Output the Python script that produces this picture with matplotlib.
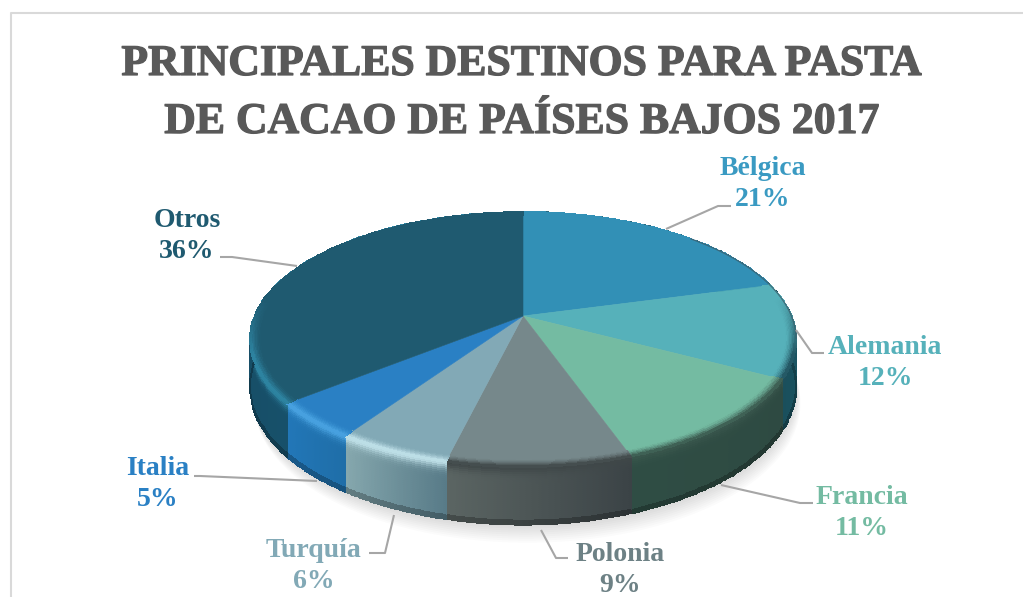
import numpy as np
import matplotlib
matplotlib.use('Agg')
import matplotlib.pyplot as plt
import matplotlib.patheffects as pe
from matplotlib.colors import to_rgb

# datos
paises = ['Bélgica', 'Alemania', 'Francia', 'Polonia', 'Turquía', 'Italia', 'Otros']
etiquetas = ['21%', '12%', '11%', '9%', '6%', '5%', '36%']
valores = [20.8, 12.0, 11.8, 9.2, 5.7, 4.7, 35.8]

# colores
color_top = ['#3290b6', '#56b1ba', '#74bba2', '#76888b', '#82a9b6', '#2a80c4', '#1f5a70']
color_txt = ['#3a9ac2', '#56b1ba', '#74bba2', '#6d8185', '#82a9b6', '#2a80c4', '#1f5a70']
# el angulo avanza de derecha a izquierda en el frente
lado_ini = ['#1d5c78', '#1b5866', '#2e4a42', '#3b4346', '#587b88', '#1f6ea8', '#17506a']
lado_fin = ['#1d5c78', '#1a4f5c', '#2f4d44', '#5b6563', '#86a8ae', '#2277b8', '#15485c']
color_rim = ['#2a6a80', '#1f4f5c', '#39564c', '#3f4748', '#c3e4ec', '#4aa4e2', '#2f88a6']

# geometria del pastel (pixeles de la imagen)
cx, cy = 523, 316
a, b, k = 268.4, 123.2, 0.184
prof = 47
r_bisel = 0.965


def proyecta(theta, r=1.0, z=0.0):
    # theta en grados, sentido horario desde las 12
    u = r * np.sin(np.radians(theta))
    v = r * np.cos(np.radians(theta))
    d = 1 + k * v
    return cx + a * u / d, cy - b * v / d + z * prof / d


def mezcla(c1, c2, f):
    c1 = np.array(to_rgb(c1))
    c2 = np.array(to_rgb(c2))
    return c1 + (c2 - c1) * f


def frente(theta):
    # el bisel solo se ve en la parte delantera
    return np.clip((0.15 - np.cos(np.radians(theta))) / 0.45, 0, 1)


fig = plt.figure(figsize=(10.23, 5.97), dpi=100)
ax = fig.add_axes([0, 0, 1, 1])
ax.set_xlim(0, 1023)
ax.set_ylim(597, 0)
ax.axis('off')

# marco
ax.plot([10.5, 10.5, 1023], [597, 13, 13], color='#d9d9d9', lw=1.5, zorder=1)

# sombra
th = np.linspace(0, 360, 361)
for i in range(10):
    sx, sy = proyecta(th, z=1 + i * 0.035)
    ax.fill(sx + i * 0.5, sy, color='#000000', alpha=0.015, lw=0, zorder=2)

# angulos de cada porcion
cortes = np.concatenate([[0], np.cumsum(valores)]) / np.sum(valores) * 360

# lados
for i in range(len(valores)):
    t1, t2 = cortes[i], cortes[i + 1]
    ths = np.linspace(t1, t2, 60)
    zs = np.linspace(0, 1, 30)
    T, Z = np.meshgrid(ths, zs)
    X, Y = proyecta(T, z=Z)
    cc = np.zeros((29, 59, 4))
    for n in range(29):
        zn = (n + 0.5) / 29
        for m in range(59):
            c = mezcla(lado_ini[i], lado_fin[i], (m + 0.5) / 59)
            c = c + (np.array(to_rgb(color_rim[i])) - c) * np.exp(-(zn / 0.13) ** 2)
            if zn > 0.93:
                c = c * 0.75
            cc[n, m, :3] = c
            cc[n, m, 3] = 1
    ax.pcolormesh(X, Y, cc, edgecolors='face', linewidth=0.2, zorder=3)

# cara superior
for i in range(len(valores)):
    t1, t2 = cortes[i], cortes[i + 1]
    ths = np.linspace(t1, t2, 80)
    px, py = proyecta(ths)
    ax.fill(np.r_[cx, px], np.r_[cy, py], color=color_top[i], lw=0.4, zorder=4)

    # bisel junto al borde
    rs = np.linspace(r_bisel, 1, 8)
    T, R = np.meshgrid(ths, rs)
    X, Y = proyecta(T, r=R)
    cc = np.zeros((7, 79, 4))
    medio = 0.5 * (ths[:-1] + ths[1:])
    for n in range(7):
        f = ((n + 0.5) / 7) ** 1.5
        for m in range(79):
            cc[n, m, :3] = mezcla(color_top[i], color_rim[i], f * frente(medio[m]))
            cc[n, m, 3] = 1
    ax.pcolormesh(X, Y, cc, edgecolors='face', linewidth=0.2, zorder=5)

# borde fino arriba a la derecha
bx, by = proyecta(np.linspace(45, 100, 60))
ax.plot(bx, by, color='#3c5f6c', lw=0.9, alpha=0.8, zorder=5)

# lineas guia
guias = [
    ([666, 718, 731], [229, 206, 206]),
    ([796, 812, 824], [330, 353, 353]),
    ([721, 800, 813], [485, 503, 503]),
    ([541, 556, 568], [530, 558, 558]),
    ([394, 385, 369], [515, 553, 553]),
    ([317, 200, 194], [481, 476, 476]),
    ([297, 232, 220], [266, 257, 257]),
]
for gx, gy in guias:
    ax.plot(gx, gy, color='#a6a6a6', lw=1.5, zorder=6, solid_capstyle='butt')

# etiquetas
pos_txt = [(763, 184), (885, 363), (862, 513), (620, 570), (314, 566), (158, 484), (187, 236)]
for i in range(len(paises)):
    ax.text(pos_txt[i][0], pos_txt[i][1], paises[i] + '\n' + etiquetas[i], color=color_txt[i],
            family='Liberation Serif', weight='bold', fontsize=20, ha='center', va='center',
            linespacing=1.35, zorder=7)

# titulo, con un trazo fino para que pese como el original
grueso = [pe.withStroke(linewidth=0.9, foreground='#595959')]
ax.text(522, 64, 'PRINCIPALES DESTINOS PARA PASTA', color='#595959', family='Liberation Serif',
        weight='bold', fontsize=31.5, ha='center', va='center', zorder=7, path_effects=grueso)
ax.text(522, 122, 'DE CACAO DE PAÍSES BAJOS 2017', color='#595959', family='Liberation Serif',
        weight='bold', fontsize=31.5, ha='center', va='center', zorder=7, path_effects=grueso)

fig.savefig('out.png', dpi=100)
